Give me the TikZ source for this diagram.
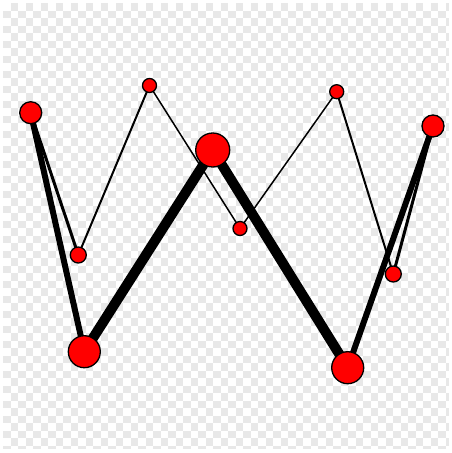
\documentclass[tikz,border=0pt]{standalone}
\pgfdeclarelayer{bg}
\pgfsetlayers{bg,main}
\begin{document}
\begin{tikzpicture}[x=1pt,y=-1pt,
  dot/.style={circle,draw=black,line width=1.3pt,fill=red,inner sep=0pt,minimum size=#1},
  edge/.style={line width=#1,draw=black}]
\useasboundingbox (0,0) rectangle (452,453);
\node[dot=22pt] (A) at (30.7,112.7) {};
\node[dot=16pt] (B) at (78.3,255) {};
\node[dot=14pt] (C) at (149.5,85.5) {};
\node[dot=32pt] (D) at (84.3,351.7) {};
\node[dot=34pt] (E) at (212.7,150) {};
\node[dot=14pt] (F) at (240,228.5) {};
\node[dot=14pt] (G) at (336.7,91.7) {};
\node[dot=16pt] (H) at (393.3,274) {};
\node[dot=22pt] (I) at (433,126) {};
\node[dot=32pt] (J) at (347.7,367.7) {};
\begin{pgfonlayer}{bg}
\fill[white] (0,0) rectangle (452,453);
\foreach \i in {0,...,59}{
  \foreach \j in {0,...,59}{
    \pgfmathtruncatemacro{\p}{mod(\i+\j,2)}
    \ifnum\p=1
      \fill[black!9] ({3+7.5*\i},{3+7.5*\j}) rectangle ++(7.5,7.5);
    \fi
  }
}
\fill[white] (0,0) rectangle (452,3);
\fill[white] (0,449) rectangle (452,453);
\fill[white] (0,0) rectangle (3,453);
\fill[white] (449,0) rectangle (452,453);
\draw[edge=6pt] (A.center) -- (D.center);
\draw[edge=3pt] (A.center) -- (B.center);
\draw[edge=2pt] (B.center) -- (C.center);
\draw[edge=1.5pt] (C.center) -- (F.center);
\draw[edge=10pt] (D.center) -- (E.center);
\draw[edge=10pt] (E.center) -- (J.center);
\draw[edge=1.5pt] (F.center) -- (G.center);
\draw[edge=2pt] (G.center) -- (H.center);
\draw[edge=3pt] (H.center) -- (I.center);
\draw[edge=6pt] (I.center) -- (J.center);
\end{pgfonlayer}
\end{tikzpicture}
\end{document}
